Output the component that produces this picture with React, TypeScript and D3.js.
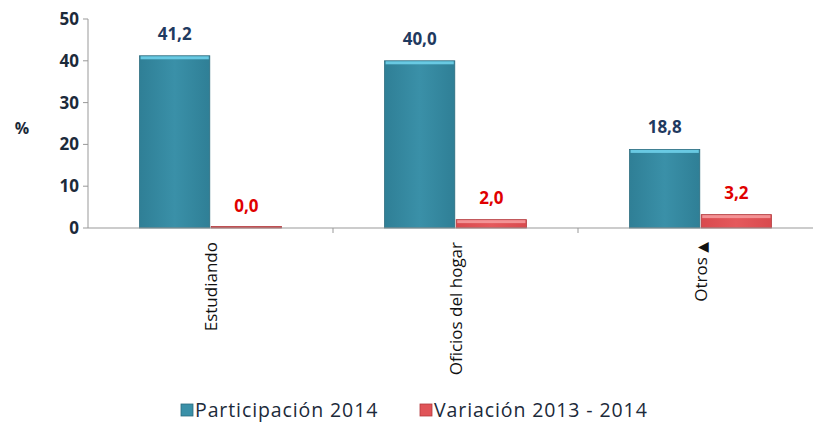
import React from 'react';
import * as d3 from 'd3';

const categories = ['Estudiando', 'Oficios del hogar', 'Otros ▲'];
const participacion = [41.2, 40.0, 18.8];
const variacion = [0.0, 2.0, 3.2];
const series = ['Participación 2014', 'Variación 2013 - 2014'];
const yTicks = [0, 10, 20, 30, 40, 50];

const W = 813, H = 427;
const m = { left: 88, top: 19, bottom: 228, right: 823 };

const fmt = (v: number) => v.toFixed(1).replace('.', ',');

export default function App() {
  const x = d3.scaleBand<string>().domain(categories).range([m.left, m.right]).paddingInner(0).paddingOuter(0);
  const y = d3.scaleLinear().domain([0, 50]).range([m.bottom, m.top]);
  const inner = d3.scaleBand<string>().domain(series).range([0, x.bandwidth()]).paddingOuter(0.72).paddingInner(0.02);
  const fills = ['url(#gBlue)', 'url(#gRed)'];
  const strokes = ['#2b6b7e', '#b33a3e'];
  const labelColors = ['#1f3a60', '#e00000'];

  return (
    <svg width={W} height={H} style={{ position: 'absolute', left: 0, top: 0 }} fontFamily="'Open Sans', sans-serif">
      <defs>
        <linearGradient id="gBlue" x1="0" x2="1" y1="0" y2="0">
          <stop offset="0" stopColor="#2f7f96" />
          <stop offset="0.5" stopColor="#3a90a8" />
          <stop offset="1" stopColor="#2f7f96" />
        </linearGradient>
        <linearGradient id="gRed" x1="0" x2="1" y1="0" y2="0">
          <stop offset="0" stopColor="#d94a4e" />
          <stop offset="0.5" stopColor="#e5595c" />
          <stop offset="1" stopColor="#d94a4e" />
        </linearGradient>
      </defs>
      <rect width={W} height={H} fill="#fff" />
      {/* y axis */}
      <line x1={m.left} x2={m.left} y1={m.top} y2={m.bottom} stroke="#999" />
      {yTicks.map(t => (
        <g key={t}>
          <line x1={m.left - 5} x2={m.left} y1={y(t)} y2={y(t)} stroke="#999" />
          <text x={m.left - 9} y={y(t)} dy="0.35em" textAnchor="end" fontSize={17} fontWeight="bold" fill="#1c2a3a">{t}</text>
        </g>
      ))}
      <text x={22} y={128} dy="0.35em" textAnchor="middle" fontSize={16} fontWeight="bold" fill="#1c2a3a">%</text>
      {/* bars */}
      {categories.map((c, i) => {
        const vals = [participacion[i], variacion[i]];
        return (
          <g key={c} transform={`translate(${x(c)},0)`}>
            {vals.map((v, j) => {
              const bx = inner(series[j])!;
              const bw = inner.bandwidth();
              const top = y(v);
              const h = Math.max(y(0) - top, 1.5);
              return (
                <g key={j}>
                  <rect x={bx} y={y(0) - h} width={bw} height={h} fill={fills[j]} stroke={strokes[j]} strokeWidth={0.8} />
                  {h > 6 && (
                    <rect x={bx + 1} y={y(0) - h + 0.5} width={bw - 2} height={3} fill={j === 0 ? '#6fd0ea' : '#f59a9c'} opacity={0.9} />
                  )}
                  <text x={bx + bw / 2} y={top - 16} textAnchor="middle" fontSize={17} fontWeight="bold" fill={labelColors[j]}>{fmt(v)}</text>
                </g>
              );
            })}
          </g>
        );
      })}
      {/* x axis */}
      <line x1={m.left} x2={W} y1={m.bottom} y2={m.bottom} stroke="#999" />
      {categories.map((c, i) => {
        const parts = c.split(' ▲');
        return (
          <g key={c}>
            {i > 0 && <line x1={x(c)} x2={x(c)} y1={m.bottom} y2={m.bottom + 5} stroke="#999" />}
            <text transform={`translate(${x(c)! + x.bandwidth() / 2 + 6},${m.bottom + 14}) rotate(-90)`} textAnchor="end" fontSize={17} fill="#111">
              {parts[0]}
              {parts.length > 1 && <tspan fontFamily="'DejaVu Sans'" fontSize={14}>{' ▲'}</tspan>}
            </text>
          </g>
        );
      })}
      {/* legend */}
      {series.map((s, j) => {
        const lx = j === 0 ? 181 : 420;
        return (
          <g key={s} transform={`translate(${lx},404)`}>
            <rect x={0} y={0} width={12} height={12} fill={j === 0 ? '#3a90a8' : '#e05458'} stroke={strokes[j]} strokeWidth={0.8} />
            <text x={14} y={12.5} fontSize={19.5} fill="#1c2a3a" letterSpacing={0.9}>{s}</text>
          </g>
        );
      })}
    </svg>
  );
}
